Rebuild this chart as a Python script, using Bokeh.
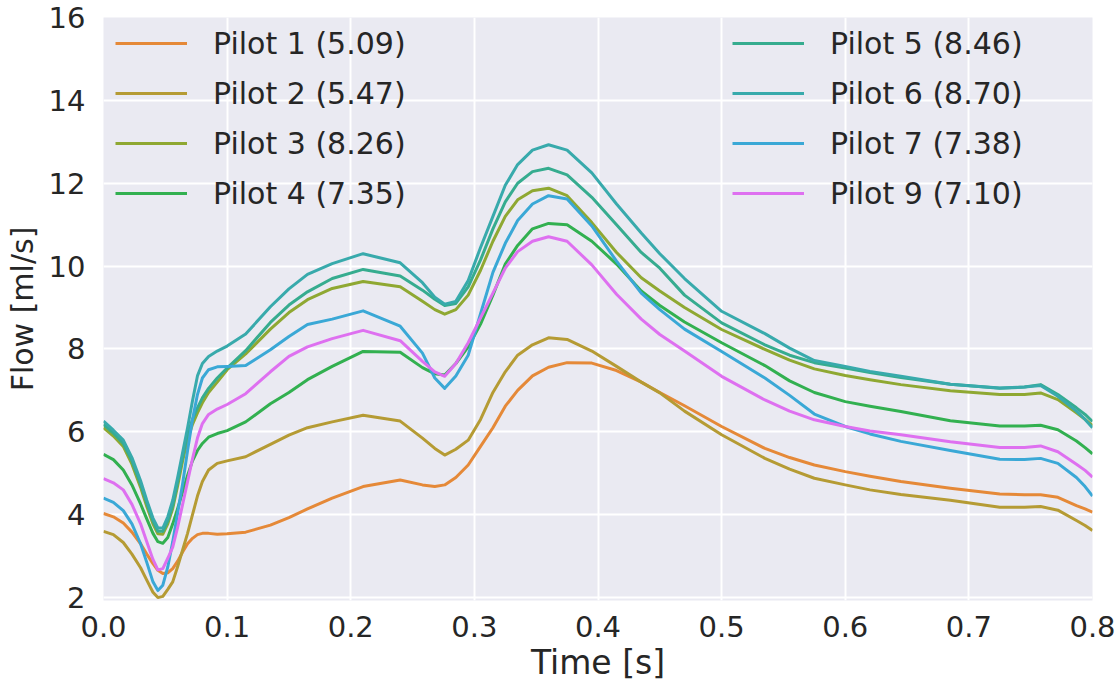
from bokeh.plotting import figure
from bokeh.models import Legend, LegendItem, FixedTicker, PrintfTickFormatter, Range1d
from bokeh.embed import file_html
from bokeh.resources import INLINE

time = [0.000, 0.008, 0.016, 0.023, 0.030, 0.035, 0.040, 0.044, 0.048, 0.052,
        0.056, 0.060, 0.064, 0.068, 0.072, 0.076, 0.080, 0.085, 0.092, 0.100,
        0.115, 0.135, 0.150, 0.165, 0.185, 0.210, 0.240, 0.258, 0.268, 0.276,
        0.285, 0.295, 0.305, 0.315, 0.325, 0.335, 0.347, 0.360, 0.375, 0.395,
        0.415, 0.435, 0.450, 0.470, 0.500, 0.535, 0.555, 0.575, 0.600, 0.620,
        0.645, 0.685, 0.725, 0.745, 0.758, 0.772, 0.787, 0.794, 0.800]

pilot1 = [4.03, 3.95, 3.80, 3.58, 3.30, 3.05, 2.82, 2.66, 2.58, 2.60,
          2.70, 2.88, 3.10, 3.30, 3.43, 3.52, 3.55, 3.55, 3.53, 3.54,
          3.58, 3.75, 3.93, 4.14, 4.40, 4.68, 4.84, 4.72, 4.68, 4.72,
          4.90, 5.20, 5.65, 6.10, 6.62, 7.00, 7.35, 7.56, 7.67, 7.66,
          7.48, 7.20, 6.95, 6.63, 6.13, 5.60, 5.38, 5.20, 5.04, 4.93,
          4.80, 4.64, 4.50, 4.48, 4.48, 4.42, 4.22, 4.14, 4.06]
pilot2 = [3.60, 3.52, 3.33, 3.05, 2.72, 2.42, 2.13, 2.00, 2.03, 2.20,
          2.38, 2.75, 3.15, 3.55, 4.00, 4.45, 4.80, 5.08, 5.24, 5.30,
          5.40, 5.70, 5.92, 6.10, 6.24, 6.40, 6.26, 5.85, 5.60, 5.44,
          5.58, 5.80, 6.30, 6.95, 7.45, 7.85, 8.10, 8.27, 8.23, 7.95,
          7.58, 7.20, 6.94, 6.50, 5.93, 5.36, 5.10, 4.88, 4.72, 4.60,
          4.49, 4.35, 4.18, 4.18, 4.20, 4.11, 3.86, 3.74, 3.62]
pilot3 = [6.10, 5.90, 5.65, 5.22, 4.66, 4.20, 3.78, 3.54, 3.53, 3.78,
          4.15, 4.70, 5.30, 5.82, 6.18, 6.46, 6.70, 6.95, 7.20, 7.50,
          7.88, 8.48, 8.88, 9.19, 9.46, 9.63, 9.50, 9.15, 8.95, 8.84,
          8.95, 9.30, 9.90, 10.60, 11.20, 11.60, 11.82, 11.88, 11.70, 11.05,
          10.33, 9.72, 9.40, 9.00, 8.47, 7.99, 7.73, 7.52, 7.36, 7.26,
          7.14, 6.99, 6.90, 6.90, 6.94, 6.78, 6.46, 6.30, 6.15]
pilot4 = [5.46, 5.33, 5.08, 4.72, 4.26, 3.90, 3.55, 3.35, 3.31, 3.45,
          3.78, 4.15, 4.55, 4.95, 5.30, 5.55, 5.72, 5.87, 5.96, 6.03,
          6.24, 6.68, 6.95, 7.26, 7.58, 7.94, 7.92, 7.55, 7.40, 7.37,
          7.65, 8.05, 8.60, 9.30, 10.05, 10.50, 10.90, 11.03, 11.00, 10.60,
          10.05, 9.40, 9.05, 8.65, 8.15, 7.60, 7.23, 6.95, 6.73, 6.62,
          6.49, 6.27, 6.14, 6.14, 6.16, 6.05, 5.78, 5.62, 5.47]
pilot5 = [6.18, 5.97, 5.72, 5.30, 4.74, 4.28, 3.85, 3.60, 3.60, 3.85,
          4.22, 4.80, 5.40, 5.95, 6.30, 6.58, 6.82, 7.05, 7.30, 7.54,
          7.96, 8.64, 9.06, 9.38, 9.70, 9.92, 9.76, 9.42, 9.20, 9.05,
          9.10, 9.50, 10.15, 10.90, 11.55, 12.00, 12.28, 12.36, 12.20, 11.66,
          11.00, 10.33, 9.95, 9.30, 8.63, 8.10, 7.85, 7.67, 7.54, 7.43,
          7.31, 7.15, 7.05, 7.08, 7.14, 6.90, 6.58, 6.42, 6.25]
pilot6 = [6.26, 6.04, 5.80, 5.38, 4.82, 4.35, 3.92, 3.68, 3.68, 3.95,
          4.35, 4.90, 5.50, 6.10, 6.75, 7.35, 7.65, 7.82, 7.95, 8.07,
          8.36, 9.02, 9.45, 9.80, 10.06, 10.30, 10.08, 9.60, 9.25, 9.08,
          9.15, 9.65, 10.45, 11.20, 11.95, 12.45, 12.80, 12.93, 12.80, 12.25,
          11.50, 10.80, 10.30, 9.70, 8.91, 8.37, 8.02, 7.72, 7.58, 7.46,
          7.34, 7.15, 7.06, 7.08, 7.12, 6.86, 6.50, 6.30, 6.10]
pilot7 = [4.40, 4.30, 4.10, 3.78, 3.30, 2.85, 2.38, 2.17, 2.30, 2.74,
          3.35, 4.05, 4.75, 5.55, 6.30, 6.90, 7.30, 7.50, 7.57, 7.58,
          7.60, 7.98, 8.30, 8.59, 8.72, 8.92, 8.55, 7.90, 7.30, 7.05,
          7.35, 7.85, 8.85, 9.85, 10.55, 11.10, 11.50, 11.70, 11.62, 10.97,
          10.12, 9.35, 8.95, 8.48, 7.94, 7.30, 6.88, 6.43, 6.13, 5.95,
          5.77, 5.55, 5.34, 5.33, 5.36, 5.24, 4.90, 4.68, 4.45]
pilot9 = [4.87, 4.77, 4.60, 4.25, 3.78, 3.35, 2.92, 2.67, 2.70, 2.95,
          3.22, 3.70, 4.25, 4.80, 5.35, 5.85, 6.20, 6.42, 6.55, 6.66,
          6.92, 7.45, 7.82, 8.05, 8.25, 8.45, 8.20, 7.70, 7.45, 7.34,
          7.65, 8.15, 8.75, 9.35, 9.95, 10.35, 10.60, 10.71, 10.60, 10.03,
          9.32, 8.72, 8.35, 7.95, 7.34, 6.77, 6.50, 6.29, 6.13, 6.02,
          5.93, 5.76, 5.62, 5.62, 5.66, 5.52, 5.22, 5.07, 4.91]

labels = ["Pilot 1 (5.09)", "Pilot 2 (5.47)", "Pilot 3 (8.26)", "Pilot 4 (7.35)",
          "Pilot 5 (8.46)", "Pilot 6 (8.70)", "Pilot 7 (7.38)", "Pilot 9 (7.10)"]
colors = ["#e58938", "#b59b34", "#8fa832", "#32b050",
          "#36ac8f", "#38aaac", "#3aa8d6", "#de70f0"]
series = [pilot1, pilot2, pilot3, pilot4, pilot5, pilot6, pilot7, pilot9]

x_ticks = [0.0, 0.1, 0.2, 0.3, 0.4, 0.5, 0.6, 0.7, 0.8]
y_ticks = [2, 4, 6, 8, 10, 12, 14, 16]

FONT = "DejaVu Sans"
TXT = "#262626"

p = figure(frame_width=989, frame_height=583, output_backend="svg", toolbar_location=None,
           x_range=Range1d(0.0, 0.8), y_range=Range1d(1.93, 16.0),
           min_border_left=103, min_border_right=25, min_border_top=17,
           min_border_bottom=90)
p.background_fill_color = "#eaeaf2"
p.border_fill_color = "white"
p.outline_line_color = None

renderers = []
for vals, c in zip(series, colors):
    r = p.line(time, vals, line_color=c, line_width=3, line_join="round")
    renderers.append(r)

for ax in (p.xaxis[0], p.yaxis[0]):
    ax.axis_line_color = None
    ax.major_tick_line_color = None
    ax.minor_tick_line_color = None
    ax.major_tick_out = 0
    ax.major_tick_in = 0
    ax.major_label_text_font = FONT
    ax.major_label_text_font_size = "29px"
    ax.major_label_text_color = TXT
    ax.axis_label_text_font = FONT
    ax.axis_label_text_font_style = "normal"
    ax.axis_label_text_color = TXT

p.xaxis.ticker = FixedTicker(ticks=x_ticks)
p.yaxis.ticker = FixedTicker(ticks=y_ticks)
p.xaxis.formatter = PrintfTickFormatter(format="%.1f")
p.yaxis.formatter = PrintfTickFormatter(format="%d")
p.xaxis.axis_label = "Time [s]"
p.yaxis.axis_label = "Flow [ml/s]"
p.xaxis.axis_label_text_font_size = "33px"
p.yaxis.axis_label_text_font_size = "30px"
p.xaxis.major_label_standoff = 15
p.xaxis.axis_label_standoff = 3
p.yaxis.major_label_standoff = 18
p.yaxis.axis_label_standoff = 6

p.xgrid.ticker = FixedTicker(ticks=x_ticks)
p.ygrid.ticker = FixedTicker(ticks=y_ticks)
p.grid.grid_line_color = "white"
p.grid.grid_line_width = 2

def make_legend(items, vx, vy):
    lg = Legend(items=items, location=(vx, vy), orientation="vertical",
                margin=0, padding=0, spacing=10,
                glyph_width=72, glyph_height=40, label_height=40,
                label_standoff=26,
                label_text_font=FONT, label_text_font_size="30px",
                label_text_color=TXT,
                background_fill_alpha=0, border_line_color=None)
    return lg

left_items = [LegendItem(label=labels[i], renderers=[renderers[i]]) for i in range(4)]
right_items = [LegendItem(label=labels[i], renderers=[renderers[i]]) for i in range(4, 8)]
p.add_layout(make_legend(left_items, 12, 387))
p.add_layout(make_legend(right_items, 629, 387))

open("out.html", "w").write(file_html(p, INLINE))
